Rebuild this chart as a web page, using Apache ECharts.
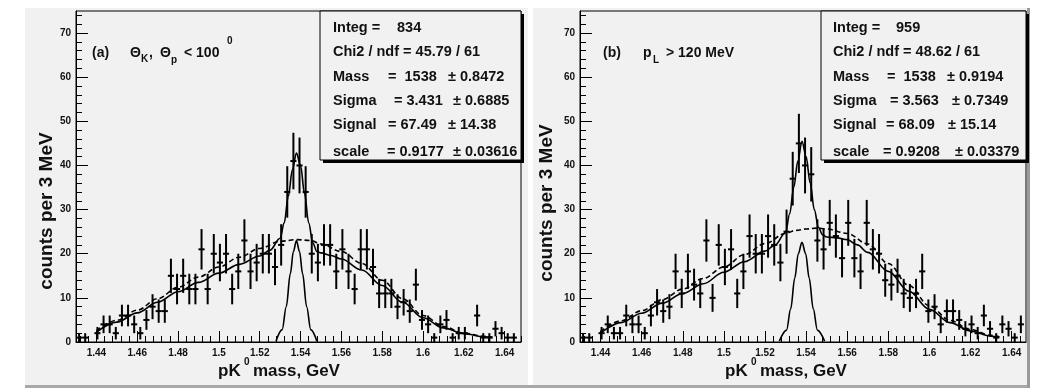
<!DOCTYPE html>
<html><head><meta charset="utf-8">
<script src="https://cdn.jsdelivr.net/npm/echarts@6/dist/echarts.min.js"></script>
<style>html,body{margin:0;padding:0;background:#fff}#c{width:1060px;height:390px}</style>
</head><body><div id="c"></div>
<script>
// ---------------- data ----------------
const binStart = 1.43, binWidth = 0.003;
const countsA = [1,1,0,2,4,4,2,6,6,4,2,5,8,7,7,15,12,15,12,12,21,12,20,18,20,12,16,23,16,18,20,20,17,22,34,41,40,34,20,18,22,22,16,21,16,12,21,21,17,11,11,11,8,9,7,13,5,4,1,4,5,1,2,2,0,6,1,1,3,2,1,1,0];
const countsB = [1,1,0,2,4,2,2,6,4,4,2,6,9,7,8,16,11,16,13,11,23,10,22,17,21,11,16,24,20,20,24,22,18,25,37,45,40,38,23,21,27,24,19,27,19,16,27,21,20,14,13,15,11,10,11,16,7,8,4,7,7,5,3,4,2,6,3,1,4,3,1,4];

// fit curves
const totXA = [1.44,1.45,1.46,1.47,1.48,1.49,1.50,1.51,1.52,1.525,1.53,1.532,1.534,1.536,1.538,1.540,1.542,1.544,1.546,1.548,1.55,1.555,1.56,1.57,1.58,1.59,1.60,1.61,1.62,1.63,1.634];
const totA  = [2.2,4.5,6.6,9.0,11.4,13.5,15.6,17.6,19.5,20.8,23.5,27,33,39,42.8,40,33.5,27,22.5,20.5,20.2,19.6,18.8,16.3,12.8,9.0,5.5,3.2,1.9,1.2,1.0];
const bgXA  = [1.44,1.45,1.46,1.47,1.48,1.49,1.50,1.51,1.52,1.53,1.538,1.545,1.55,1.56,1.57,1.58,1.59,1.60,1.61,1.62,1.63,1.634];
const bgA   = [2.6,4.9,7.2,9.8,12.4,14.7,17.0,19.2,21.2,22.8,23.2,23.0,22.2,20.5,17.8,14.0,9.8,6.0,3.5,2.0,1.3,1.1];
const gXA   = [1.528,1.531,1.533,1.535,1.5365,1.538,1.5395,1.541,1.543,1.545,1.548];
const gA    = [0.2,2.8,8,15.5,20.5,23,20.5,15.5,8,2.8,0.2];

const totXB = [1.44,1.45,1.46,1.47,1.48,1.49,1.50,1.51,1.52,1.525,1.53,1.532,1.534,1.536,1.538,1.540,1.542,1.544,1.546,1.548,1.55,1.555,1.56,1.565,1.57,1.58,1.59,1.60,1.61,1.62,1.63,1.634];
const totB  = [2.0,4.4,6.5,8.8,11.0,13.2,15.8,18.2,20.6,22,24.8,29,35,41,45.5,42,36,30,26,24.3,23.8,23.6,23.2,22,20.3,16,11.5,7.4,4.4,2.5,1.3,1.1];
const bgXB  = [1.44,1.45,1.46,1.47,1.48,1.49,1.50,1.51,1.52,1.53,1.535,1.54,1.545,1.55,1.56,1.57,1.58,1.59,1.60,1.61,1.62,1.63,1.634];
const bgB   = [2.4,4.8,7.1,9.6,12.0,14.4,17.0,19.8,22.3,24.6,25.3,25.6,25.8,25.6,24.6,22.2,17.8,12.8,8.2,4.9,2.8,1.5,1.2];
const gXB   = [1.527,1.5305,1.5325,1.5345,1.5362,1.538,1.5398,1.5415,1.5435,1.5455,1.549];
const gB    = [0.2,2.7,7.5,14.5,20,22.6,20,14.5,7.5,2.7,0.2];

const xMajorTicks = [1.44,1.46,1.48,1.50,1.52,1.54,1.56,1.58,1.60,1.62,1.64];
const xTickLabels = ['1.44','1.46','1.48','1.5','1.52','1.54','1.56','1.58','1.6','1.62','1.64'];
const yMajorTicks = [0,10,20,30,40,50,60,70];
const yTickLabels = ['0','10','20','30','40','50','60','70'];

const statsA = [
  ['Integ =', '834', ''],
  ['Chi2 / ndf = 45.79 / 61', '', ''],
  ['Mass', '=  1538', '\u00b1 0.8472'],
  ['Sigma', '= 3.431', '\u00b1 0.6885'],
  ['Signal', '= 67.49', '\u00b1 14.38'],
  ['scale', '= 0.9177', '\u00b1 0.03616']
];
const statsB = [
  ['Integ =', '959', ''],
  ['Chi2 / ndf = 48.62 / 61', '', ''],
  ['Mass', '=  1538', '\u00b1 0.9194'],
  ['Sigma', '= 3.563', '\u00b1 0.7349'],
  ['Signal', '= 68.09', '\u00b1 15.14'],
  ['scale', '= 0.9208', '\u00b1 0.03379']
];

// ---------------- layout ----------------
const FONT = '"Liberation Sans", Arial, sans-serif';
const xMinor = [];
for (let k = 0; k <= 54; k++) { const v = +(1.432 + 0.004 * k).toFixed(3); if (v <= 1.648 && Math.abs(((v - 1.44) / 0.02) - Math.round((v - 1.44) / 0.02)) > 1e-6) xMinor.push(v); }
const yMinor = [];
for (let v = 2; v <= 74; v += 2) if (v % 10 !== 0) yMinor.push(v);

const panels = [
  {grid: {left: 76, top: 11, width: 445, height: 331}, xmax: 1.648, counts: countsA, tot: [totXA, totA], bg: [bgXA, bgA], g: [gXA, gA]},
  {grid: {left: 580, top: 11, width: 446, height: 331}, xmax: 1.647, counts: countsB, tot: [totXB, totB], bg: [bgXB, bgB], g: [gXB, gB]}
];

const grids = [], xAxes = [], yAxes = [], series = [];
panels.forEach((p, gi) => {
  grids.push(Object.assign({show: true, borderColor: '#000', borderWidth: 1, backgroundColor: 'transparent'}, p.grid));
  const xBase = {type: 'value', gridIndex: gi, min: binStart, max: p.xmax, position: 'bottom', offset: 0, splitLine: {show: false}};
  xAxes.push(Object.assign({}, xBase, {
    axisLine: {show: true, onZero: false, lineStyle: {color: '#000', width: 1}},
    axisTick: {show: true, inside: true, length: 11, customValues: xMajorTicks, lineStyle: {color: '#000', width: 1}},
    axisLabel: {show: true, customValues: xMajorTicks, margin: 6, color: '#111', fontSize: 10, fontWeight: 'bold', fontFamily: FONT,
      formatter: v => { let b = 0; xMajorTicks.forEach((t, i) => { if (Math.abs(t - v) < Math.abs(xMajorTicks[b] - v)) b = i; }); return xTickLabels[b]; }}
  }));
  xAxes.push(Object.assign({}, xBase, {
    axisLine: {show: false}, axisLabel: {show: false},
    axisTick: {show: true, inside: true, length: 6, customValues: xMinor, lineStyle: {color: '#000', width: 1}}
  }));
  const yBase = {type: 'value', gridIndex: gi, min: 0, max: 75, position: 'left', offset: 0, splitLine: {show: false}};
  yAxes.push(Object.assign({}, yBase, {
    axisLine: {show: true, onZero: false, lineStyle: {color: '#000', width: 1}},
    axisTick: {show: true, inside: true, length: 12, customValues: yMajorTicks, lineStyle: {color: '#000', width: 1}},
    axisLabel: {show: true, customValues: yMajorTicks, margin: 5, color: '#111', fontSize: 10, fontWeight: 'bold', fontFamily: FONT,
      formatter: v => yTickLabels[yMajorTicks.indexOf(Math.round(v))] || ''}
  }));
  yAxes.push(Object.assign({}, yBase, {
    axisLine: {show: false}, axisLabel: {show: false},
    axisTick: {show: true, inside: true, length: 6, customValues: yMinor, lineStyle: {color: '#000', width: 1}}
  }));
  const xi = gi * 2, yi = gi * 2;
  series.push({
    type: 'custom', xAxisIndex: xi, yAxisIndex: yi, clip: true, z: 5,
    encode: {x: [0, 1], y: 2},
    data: p.counts.map((n, i) => [binStart + binWidth * i, binStart + binWidth * (i + 1), n]),
    renderItem: (params, api) => {
      const lo = api.value(0), hi = api.value(1), n = api.value(2);
      if (!(n > 0)) return null;
      const e = Math.sqrt(n), mid = (lo + hi) / 2;
      const pL = api.coord([lo, n]), pR = api.coord([hi, n]);
      const pT = api.coord([mid, n + e]), pB = api.coord([mid, n - e]);
      const st = {stroke: '#000', lineWidth: 2};
      return {type: 'group', children: [
        {type: 'line', shape: {x1: pL[0], y1: pL[1], x2: pR[0], y2: pR[1]}, style: st},
        {type: 'line', shape: {x1: pT[0], y1: pT[1], x2: pB[0], y2: pB[1]}, style: st}
      ]};
    }
  });
  const mk = (arr, dashed) => ({
    type: 'line', xAxisIndex: xi, yAxisIndex: yi, symbol: 'none', smooth: 0.35, smoothMonotone: 'x', z: 6, silent: true,
    lineStyle: {color: '#000', width: 1.6, type: dashed ? [5, 3] : 'solid'},
    data: arr[0].map((x, i) => [x, arr[1][i]])
  });
  series.push(mk(p.bg, true));
  series.push(mk(p.tot, false));
  series.push(mk(p.g, false));
});

// ---------------- graphics ----------------
const G = [];
const txt = (x, y, text, size, opts) => G.push(Object.assign({type: 'text', x, y, z: 60, silent: true,
  style: {text, fill: '#111', font: 'bold ' + size + 'px ' + FONT, verticalAlign: 'middle', align: 'left'}}, opts || {}));
// pads
G.push({type: 'rect', z: -20, shape: {x: 25, y: 8, width: 503, height: 380}, style: {fill: '#f1f1f1'}});
G.push({type: 'rect', z: -20, shape: {x: 533, y: 8, width: 497, height: 380}, style: {fill: '#f1f1f1'}});
G.push({type: 'rect', z: -19, shape: {x: 25, y: 385, width: 1005, height: 3}, style: {fill: '#a8a8a8'}});
G.push({type: 'rect', z: -19, shape: {x: 1027, y: 8, width: 3, height: 380}, style: {fill: '#9a9a9a'}});

// stats boxes: cols = [name x, integ value x, per-row "=" x, per-row "±" x]
function statsBox(bx, by, bw, bh, rows, nameX, integX, eqX, pmX) {
  G.push({type: 'rect', z: 50, shape: {x: bx + 3, y: by + 3, width: bw, height: bh}, style: {fill: '#000'}});
  G.push({type: 'rect', z: 51, shape: {x: bx, y: by, width: bw, height: bh}, style: {fill: '#f1f1f1', stroke: '#000', lineWidth: 1}});
  const ys = [28, 52, 77, 101, 125, 152];
  rows.forEach((r, i) => {
    txt(nameX, ys[i], r[0], 14.5);
    if (r[1]) txt(i === 0 ? integX : eqX[i], ys[i], r[1], 14.5);
    if (r[2]) txt(pmX[i], ys[i], r[2], 14.5);
  });
}
statsBox(320, 11, 201, 149, statsA, 333, 397, [0, 0, 388, 394, 388, 387], [0, 0, 448, 453, 448, 453]);
statsBox(821, 11, 205, 149, statsB, 833, 896, [0, 0, 887, 890, 886, 883], [0, 0, 947, 952, 948, 955]);

// panel labels
txt(92, 53, '(a)', 14);
txt(130, 53, '\u0398', 14); txt(141, 59, 'K', 10); txt(149, 53, ',', 14);
txt(160, 53, '\u0398', 14); txt(171, 60, 'p', 10); txt(184, 53, '< 100', 14); txt(227, 41, '0', 10);
txt(603, 53, '(b)', 14);
txt(643, 53, 'p', 14); txt(653, 60, 'L', 10); txt(666, 53, '> 120 MeV', 14);

// axis titles
[[218, 244, 253], [725, 751, 760]].forEach(c => {
  txt(c[0], 371, 'pK', 17); txt(c[1], 362, '0', 10); txt(c[2], 371, 'mass, GeV', 17);
});
G.push({type: 'text', x: 47, y: 211, rotation: Math.PI / 2, z: 60, silent: true,
  style: {text: 'counts per 3 MeV', fill: '#111', font: 'bold 19px ' + FONT, align: 'center', verticalAlign: 'middle'}});
G.push({type: 'text', x: 547, y: 203, rotation: Math.PI / 2, z: 60, silent: true,
  style: {text: 'counts per 3 MeV', fill: '#111', font: 'bold 19px ' + FONT, align: 'center', verticalAlign: 'middle'}});

const chart = echarts.init(document.getElementById('c'), null, {renderer: 'canvas'});
chart.setOption({
  animation: false,
  backgroundColor: '#ffffff',
  grid: grids, xAxis: xAxes, yAxis: yAxes, series,
  graphic: {elements: G}
});
</script></body></html>
